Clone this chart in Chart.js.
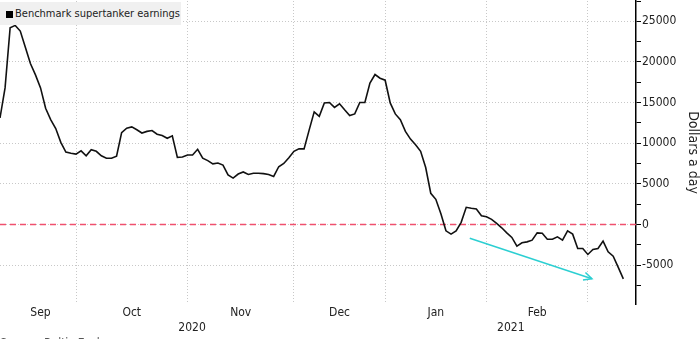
<!DOCTYPE html>
<html>
<head>
<meta charset="utf-8">
<script src="https://cdn.jsdelivr.net/npm/chart.js@4.4.1/dist/chart.umd.min.js"></script>
<style>
  html, body { margin: 0; padding: 0; background: #fff; overflow: hidden; }
  #wrap { position: relative; width: 700px; height: 339px; overflow: hidden; }
  #legend {
    position: absolute; left: 0; top: 2px; width: 181px; height: 23px;
    display: flex; align-items: center;
    background: #f0f0f0; color: #222; white-space: nowrap;
    font: 11px 'DejaVu Sans Condensed', 'DejaVu Sans', sans-serif;
  }
  #legend .sq { width: 7px; height: 7px; background: #000; margin: 1px 2px 0 6px; }
  #source {
    position: absolute; left: 0; top: 336px; color: #555; white-space: nowrap;
    font: 12px 'DejaVu Sans Condensed', 'DejaVu Sans', sans-serif;
  }
</style>
</head>
<body>
<div id="wrap">
  <canvas id="chart" width="700" height="339"></canvas>
  <div id="legend"><span class="sq"></span><span>Benchmark supertanker earnings</span></div>
  <div id="source">Source: Baltic Exchange</div>
</div>
<script>
// Benchmark supertanker (VLCC) earnings, one value per trading day from mid Sep 2020
const earnings = [
  13100, 16800, 24200, 24500, 23800, 21800, 19800, 18400, 16800, 14300,
  12900, 11800, 10100, 8900, 8750, 8650, 9050, 8450, 9200, 9000,
  8450, 8150, 8150, 8400, 11300, 11850, 12000, 11650, 11250, 11450,
  11550, 11100, 10950, 10600, 10900, 8250, 8300, 8550, 8550, 9250,
  8150, 7850, 7450, 7550, 7300, 6100, 5700, 6200, 6450, 6150,
  6300, 6300, 6250, 6150, 5900, 7100, 7500, 8200, 9000, 9300,
  9300, 11600, 13850, 13300, 14950, 15000, 14400, 14850, 14100, 13400,
  13600, 15000, 15000, 17400, 18450, 18000, 17750, 14950, 13600, 12900,
  11450, 10500, 9800, 9000, 7000, 3830, 3090, 1300, -790, -1200,
  -790, 250, 2100, 1980, 1900, 1060, 940, 620, 120, -420,
  -1040, -1600, -2680, -2270, -2150, -1940, -1040, -1100, -1820, -1820,
  -1530, -1940, -790, -1200, -2960, -2960, -3700, -3090, -2960, -2060,
  -3380, -3920, -5300, -6700
];

// x axis works in trading-day index
const monthNames = ['Sep', 'Oct', 'Nov', 'Dec', 'Jan', 'Feb'];
const monthLabelAt = [8, 26, 47.5, 67, 86, 106];
const monthStartAt = [15, 37, 58, 76, 96, 116];   // Oct 1 .. Mar 1
const yearNames = ['2020', '2021'];
const yearLabelAt = [37.9, 100.8];

// y ticks: labelled every 5000, small marks every 2500
const yTicks = [-7500, -5000, -2500, 0, 2500, 5000, 7500, 10000, 12500,
                15000, 17500, 20000, 22500, 25000, 27500];

// downward trend arrow (index, dollars a day)
const trendArrow = [{ x: 92.7, y: -1700 }, { x: 116.8, y: -6700 }];

const X_MIN = 0, X_MAX = 125.5;
const Y_MIN = -9800, Y_MAX = 27500;

const FONT = "'DejaVu Sans Condensed', 'DejaVu Sans', sans-serif";
const GRID = '#c8c8c8';
const ARROW = '#2ccfd2';

const isMajor = v => Math.abs(v % 5000) < 1e-6;

const arrowHead = {
  id: 'arrowHead',
  afterDatasetsDraw(chart) {
    const pts = chart.getDatasetMeta(2).data;
    const a = pts[0], b = pts[1];
    const ang = Math.atan2(b.y - a.y, b.x - a.x);
    const len = 9;
    const ctx = chart.ctx;
    ctx.save();
    ctx.strokeStyle = ARROW;
    ctx.lineWidth = 1.5;
    ctx.beginPath();
    ctx.moveTo(b.x - len * Math.cos(ang - 0.45), b.y - len * Math.sin(ang - 0.45));
    ctx.lineTo(b.x, b.y);
    ctx.lineTo(b.x - len * Math.cos(ang + 0.45), b.y - len * Math.sin(ang + 0.45));
    ctx.stroke();
    ctx.restore();
  }
};

const setTicks = values => axis => { axis.ticks = values.map(v => ({ value: v })); };
const fitTo = (w, h) => s => {
  if (w !== null) s.width = w;
  if (h !== null) s.height = h;
  s.paddingTop = 0; s.paddingBottom = 0; s.paddingLeft = 0; s.paddingRight = 0;
};

new Chart(document.getElementById('chart'), {
  type: 'line',
  data: {
    datasets: [
      {
        data: earnings.map((v, i) => ({ x: i, y: v })),
        borderColor: '#111',
        borderWidth: 1.6,
        pointRadius: 0,
        tension: 0
      },
      {
        data: [{ x: X_MIN, y: 0 }, { x: X_MAX, y: 0 }],
        borderColor: '#f0506e',
        borderWidth: 1.5,
        borderDash: [6, 4],
        pointRadius: 0
      },
      {
        data: trendArrow,
        borderColor: ARROW,
        borderWidth: 1.5,
        pointRadius: 0
      }
    ]
  },
  options: {
    responsive: false,
    animation: false,
    layout: { padding: { top: 1, left: 0, right: 0, bottom: 0 }, autoPadding: false },
    plugins: { legend: { display: false }, tooltip: { enabled: false } },
    scales: {
      x: {
        type: 'linear', position: 'bottom', min: X_MIN, max: X_MAX, weight: 0,
        afterBuildTicks: setTicks(monthStartAt),
        afterFit: fitTo(null, 0),
        ticks: { display: false },
        grid: { color: GRID, drawTicks: false },
        border: { display: false, dash: [1, 2] }
      },
      xm: {
        type: 'linear', position: 'bottom', min: X_MIN, max: X_MAX, weight: 1,
        afterBuildTicks: setTicks(monthLabelAt),
        afterFit: fitTo(null, 17),
        ticks: {
          autoSkip: false, maxRotation: 0, padding: 2, color: '#222',
          font: { family: FONT, size: 12 },
          callback: v => monthNames[monthLabelAt.indexOf(v)]
        },
        grid: { display: false, drawTicks: false },
        border: { display: false }
      },
      xy: {
        type: 'linear', position: 'bottom', min: X_MIN, max: X_MAX, weight: 2,
        afterBuildTicks: setTicks(yearLabelAt),
        afterFit: fitTo(null, 18),
        ticks: {
          autoSkip: false, maxRotation: 0, padding: 0, color: '#222',
          font: { family: FONT, size: 12 },
          callback: v => yearNames[yearLabelAt.indexOf(v)]
        },
        grid: { display: false, drawTicks: false },
        border: { display: false }
      },
      y: {
        type: 'linear', position: 'right', min: Y_MIN, max: Y_MAX,
        afterBuildTicks: setTicks(yTicks),
        afterFit: fitTo(64, null),
        ticks: {
          autoSkip: false, padding: 1, color: '#222',
          font: { family: FONT, size: 12 },
          callback: v => (isMajor(v) ? String(v) : '')
        },
        grid: {
          color: c => (c.tick && isMajor(c.tick.value) ? GRID : 'rgba(0,0,0,0)'),
          tickColor: '#000',
          tickLength: 5
        },
        border: { display: true, color: '#000', width: 1.5, dash: [1, 2] },
        title: {
          display: true, text: 'Dollars a day', color: '#222',
          font: { family: FONT, size: 14, lineHeight: 1 },
          padding: { top: 0, bottom: 0 }
        }
      }
    }
  },
  plugins: [arrowHead]
});
</script>
</body>
</html>
